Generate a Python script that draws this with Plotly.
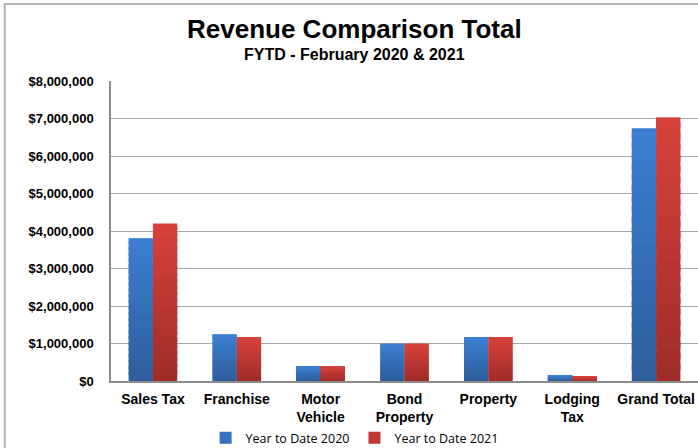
import plotly.graph_objects as go

categories = ["Sales Tax", "Franchise", "Motor<br>Vehicle", "Bond<br>Property", "Property", "Lodging<br>Tax", "Grand Total"]
ytd_2020 = [3810000, 1250000, 400000, 1000000, 1170000, 160000, 6740000]
ytd_2021 = [4200000, 1170000, 400000, 1000000, 1170000, 130000, 7030000]
tick_vals = [0, 1000000, 2000000, 3000000, 4000000, 5000000, 6000000, 7000000, 8000000]
tick_text = ["$0", "$1,000,000", "$2,000,000", "$3,000,000", "$4,000,000", "$5,000,000", "$6,000,000", "$7,000,000", "$8,000,000"]

series = [
    ("Year to Date 2020", ytd_2020, (46, 94, 155), (60, 127, 210), "#3471c2"),
    ("Year to Date 2021", ytd_2021, (160, 44, 42), (214, 65, 59), "#c13836"),
]

N = 24
fig = go.Figure()
for name, vals, c_bot, c_top, legend_col in series:
    for i in range(N):
        t = i / (N - 1)
        col = "rgb(%d,%d,%d)" % tuple(round(c_bot[k] + (c_top[k] - c_bot[k]) * t) for k in range(3))
        bases = [v * i / N for v in vals]
        heights = [min(v * (i + 1.6) / N, v) - v * i / N for v in vals]
        fig.add_trace(go.Bar(
            name=name, x=categories, y=heights, base=bases,
            offsetgroup=name, legendgroup=name,
            showlegend=False, hoverinfo="skip",
            marker=dict(color=col, line=dict(width=0)),
        ))
    # legend entry
    fig.add_trace(go.Bar(name=name, x=[categories[0]], y=[0], offsetgroup=name, legendgroup=name,
                         showlegend=True, marker=dict(color=legend_col, line=dict(width=0)),
                         hoverinfo="skip"))

title_x = 0.414
fig.update_layout(
    width=698, height=448,
    margin=dict(l=111, r=0, t=81, b=67, autoexpand=False),
    paper_bgcolor="white", plot_bgcolor="white",
    barmode="group", bargap=0.42, bargroupgap=0,
    font=dict(family="Liberation Sans, Arial, sans-serif", color="black"),
    showlegend=True,
    legend=dict(orientation="h", x=0.415, xanchor="center", y=-0.19, yanchor="middle",
                bgcolor="rgba(0,0,0,0)",
                font=dict(size=12.5, family="Open Sans, sans-serif", color="black"),
                itemwidth=30, traceorder="normal", tracegroupgap=0),
    xaxis=dict(showline=True, linecolor="#8c8c8c", linewidth=1.5, ticks="", automargin=False,
               tickfont=dict(size=14, family="Liberation Sans, Arial, sans-serif", color="black"),
               tickprefix="<b>", ticksuffix="</b>", ticklabelstandoff=4),
    yaxis=dict(range=[0, 8000000], tickvals=tick_vals, ticktext=["<b>" + t + "</b>" for t in tick_text],
               showgrid=True, gridcolor="#a6a6a6", gridwidth=1, automargin=False,
               showline=True, linecolor="#8c8c8c", linewidth=1.5, ticks="",
               tickfont=dict(size=13, family="Liberation Sans, Arial, sans-serif", color="black"),
               ticklabelstandoff=13, zeroline=False),
    annotations=[
        dict(text="<b>Revenue Comparison Total</b>", xref="paper", yref="paper",
             x=title_x, y=1.173, xanchor="center", yanchor="middle", showarrow=False,
             font=dict(size=26, family="Liberation Sans, Arial, sans-serif", color="black")),
        dict(text="<b>FYTD - February 2020 & 2021</b>", xref="paper", yref="paper",
             x=title_x, y=1.087, xanchor="center", yanchor="middle", showarrow=False,
             font=dict(size=16, family="Liberation Sans, Arial, sans-serif", color="black")),
    ],
    shapes=[dict(type="rect", xref="paper", yref="paper",
                 x0=-0.181, x1=1.05, y0=-0.3, y1=1.257,
                 line=dict(color="#b4b4b4", width=2), fillcolor="rgba(0,0,0,0)", layer="below")],
)

fig.write_html("out.html", config={"displayModeBar": False},
               post_script="document.body.style.margin='0';document.body.style.overflow='hidden';")
